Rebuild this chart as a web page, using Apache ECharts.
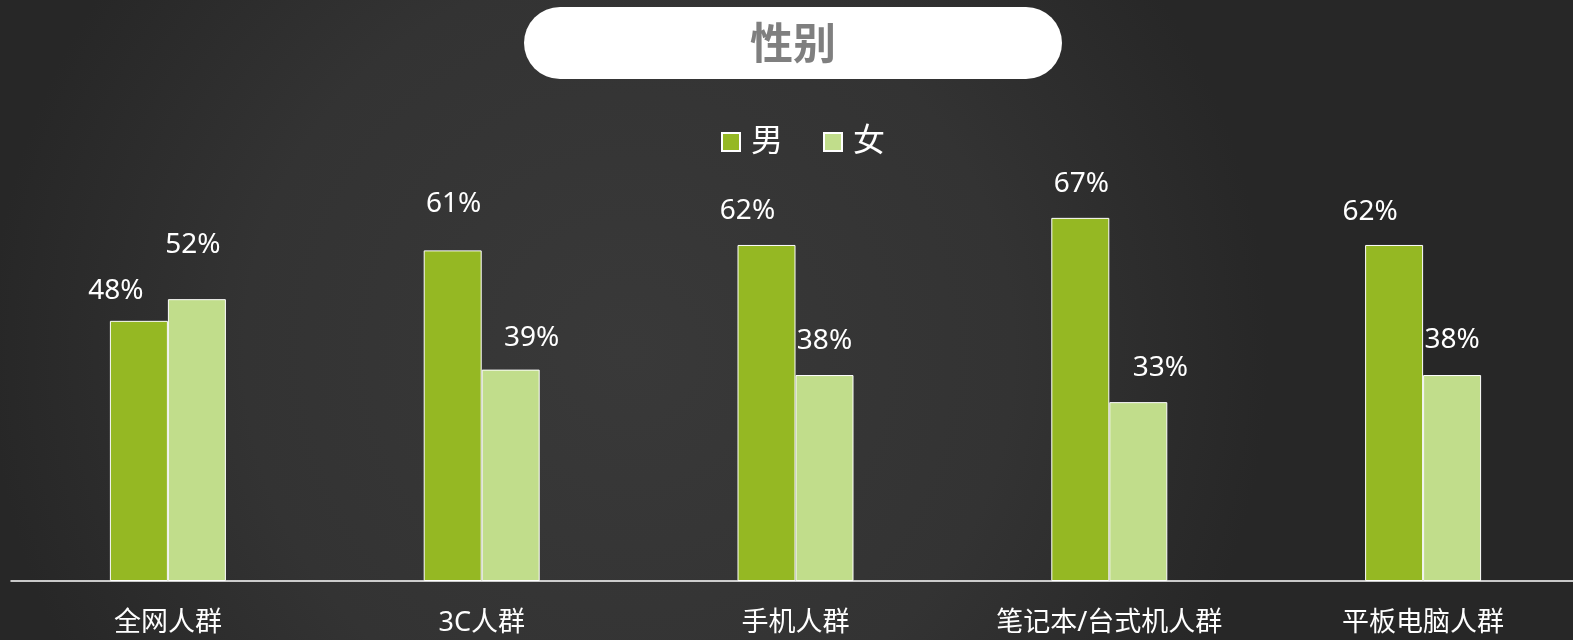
<!DOCTYPE html>
<html lang="zh-CN">

<head>
    <meta charset="UTF-8" />
    <title>性别</title>
    <script src="https://cdn.jsdelivr.net/npm/echarts@6/dist/echarts.min.js"></script>
    <style>
        html, body { margin: 0; padding: 0; }
    </style>
</head>

<body>
    <div id="chart" style="width:1573px;height:640px;"></div>
    <script type="text/javascript">
        var categories = ['全网人群', '3C人群', '手机人群', '笔记本/台式机人群', '平板电脑人群'];
        var maleData = [48, 61, 62, 67, 62];   // 男
        var femaleData = [52, 39, 38, 33, 38]; // 女

        // 标签的微调偏移 (和原图的手工摆放对齐)
        var maleLabelOffset = [[-23, 4], [1, -12], [-19, 0], [1, 0], [-24, 1]];
        var femaleLabelOffset = [[-4, -20], [21, 2], [0, 0], [22, 0], [0, -1]];

        var fontFamily = '"Noto Sans", "Noto Sans CJK SC", sans-serif';

        function withOffsets(values, offsets) {
            return values.map(function (v, i) {
                return { value: v, label: { offset: offsets[i] } };
            });
        }

        var chart = echarts.init(document.getElementById('chart'));
        var option = {
            backgroundColor: {
                type: 'radial',
                x: 0.4,
                y: 0.55,
                r: 1,
                colorStops: [
                    { offset: 0, color: '#393939' },
                    { offset: 0.6, color: '#333333' },
                    { offset: 1, color: '#272727' }
                ]
            },
            title: {
                text: '性别',
                left: 524,
                top: 7,
                padding: [0, 226],
                backgroundColor: '#ffffff',
                borderRadius: 36,
                textStyle: {
                    color: '#7f7f7f',
                    fontSize: 43,
                    fontWeight: 'bold',
                    lineHeight: 72,
                    fontFamily: '"Noto Sans CJK SC", sans-serif'
                }
            },
            legend: {
                data: ['男', '女'],
                left: 716,
                top: 121,
                icon: 'rect',
                itemWidth: 18,
                itemHeight: 18,
                itemGap: 40,
                textStyle: {
                    color: '#ffffff',
                    fontSize: 32,
                    padding: [0, 0, 0, 6],
                    fontFamily: fontFamily
                }
            },
            grid: {
                left: 11,
                width: 1569,
                top: 39,
                bottom: 59,
                outerBoundsMode: 'none'
            },
            xAxis: {
                type: 'category',
                data: categories,
                axisTick: { show: false },
                axisLine: {
                    lineStyle: { color: '#ffffff', width: 1.5 }
                },
                axisLabel: {
                    color: '#ffffff',
                    fontSize: 27,
                    margin: 29,
                    fontFamily: fontFamily
                }
            },
            yAxis: {
                type: 'value',
                min: 0,
                max: 100,
                show: false,
                splitLine: { show: false }
            },
            series: [{
                name: '男',
                type: 'bar',
                barWidth: 58,
                barGap: 0,
                data: withOffsets(maleData, maleLabelOffset),
                itemStyle: {
                    color: '#95b823',
                    borderColor: '#ffffff',
                    borderWidth: 1
                },
                label: {
                    show: true,
                    position: 'top',
                    distance: 20,
                    color: '#ffffff',
                    fontSize: 28,
                    fontFamily: fontFamily,
                    formatter: '{c}%'
                }
            }, {
                name: '女',
                type: 'bar',
                barWidth: 58,
                barGap: 0,
                data: withOffsets(femaleData, femaleLabelOffset),
                itemStyle: {
                    color: '#c1dd8b',
                    borderColor: '#ffffff',
                    borderWidth: 1
                },
                label: {
                    show: true,
                    position: 'top',
                    distance: 20,
                    color: '#ffffff',
                    fontSize: 28,
                    fontFamily: fontFamily,
                    formatter: '{c}%'
                }
            }]
        };

        chart.setOption(option, true);
    </script>
</body>

</html>
